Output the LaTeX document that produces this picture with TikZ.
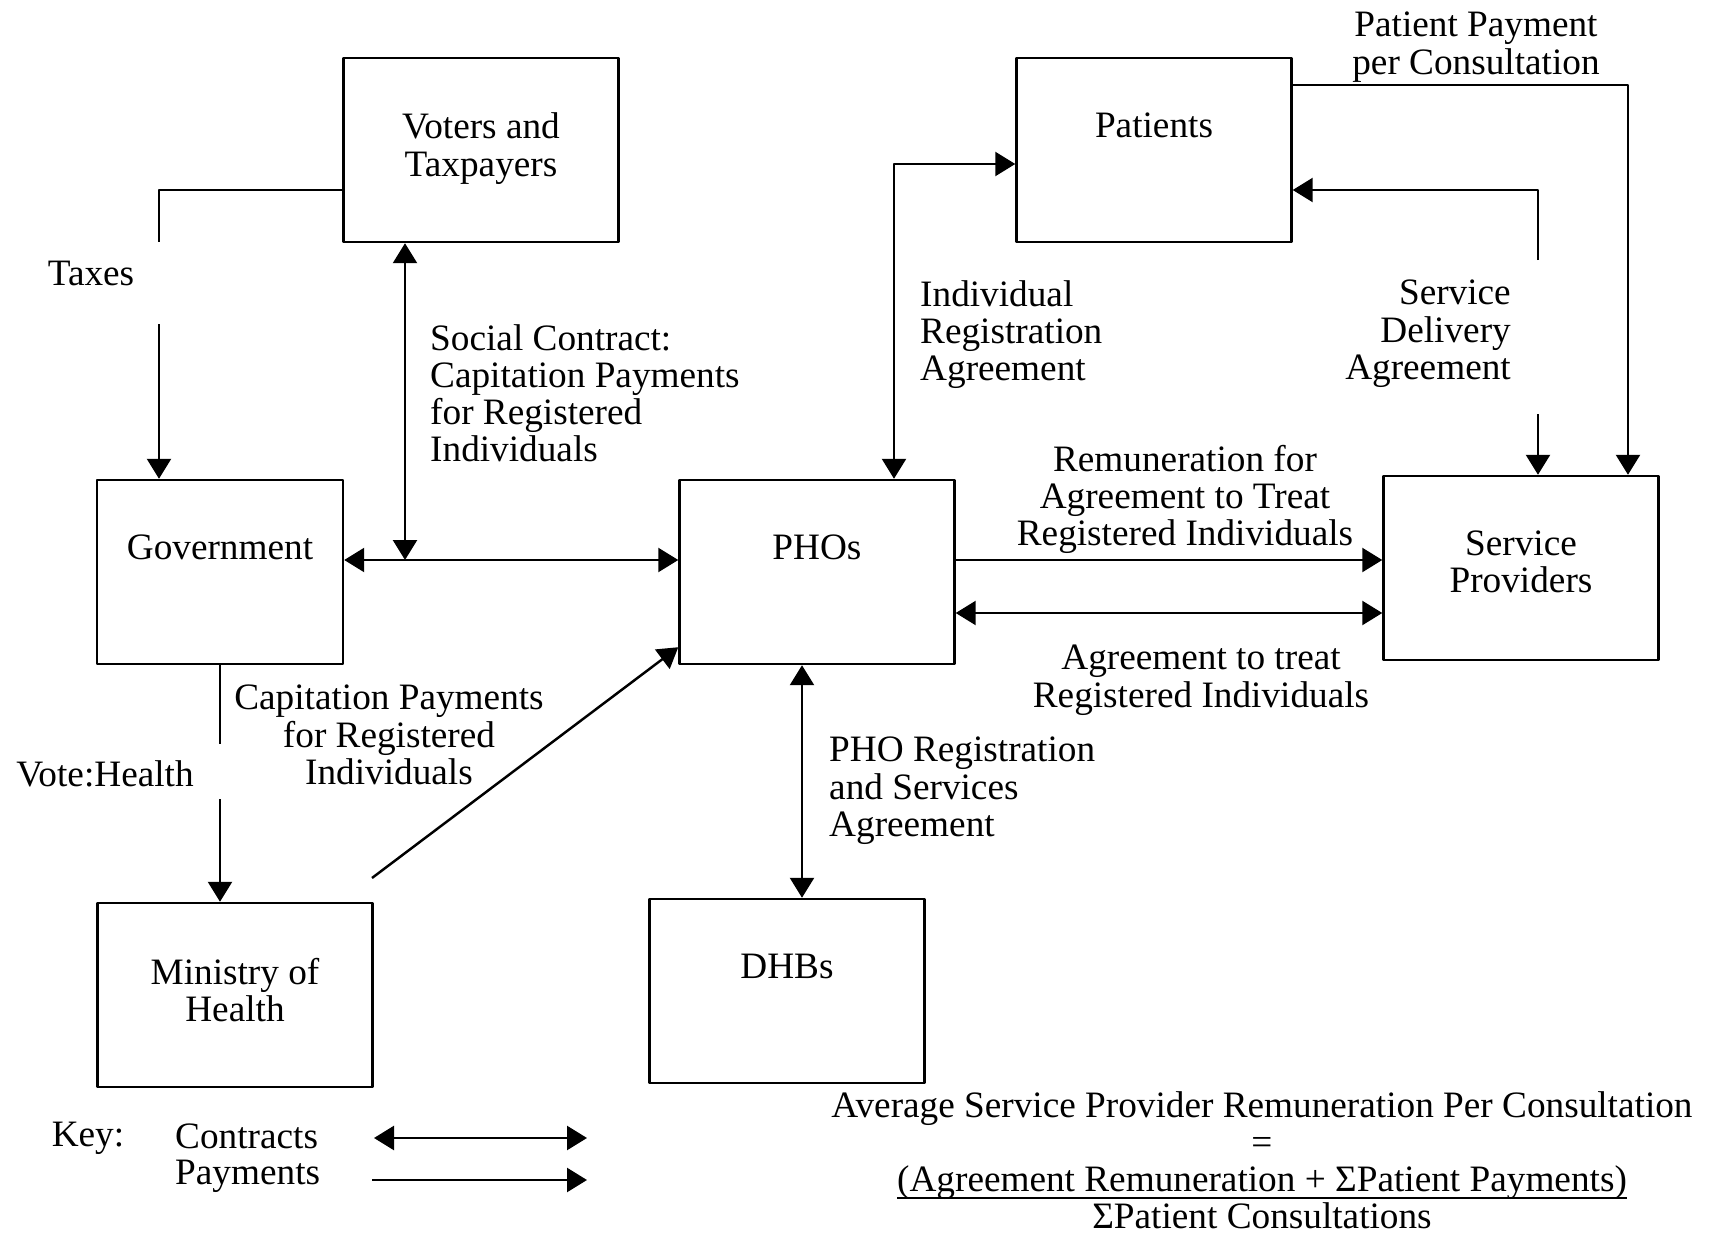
\documentclass[tikz,border=0pt]{standalone}
\usepackage{fontspec}
\setmainfont{Liberation Serif}
\usetikzlibrary{arrows.meta}

\newcommand{\fracline}[1]{\setbox0\hbox{#1}\rlap{\rule[-2.2pt]{\wd0}{0.6pt}}\box0}

\tikzset{
  box/.style={draw,minimum width=2.75cm,minimum height=1.84cm,inner sep=0pt},
  title/.style={anchor=north,align=center,inner sep=0pt},
  txt/.style={inner sep=0pt},
  contract/.style={{Triangle[length=2mm,width=2.4mm]}-{Triangle[length=2mm,width=2.4mm]}},
  payment/.style={-{Triangle[length=2mm,width=2.4mm]}}
}

\begin{document}
\begin{tikzpicture}[line join=round,line width=.7pt,font=\fontsize{10.6}{10.6}\selectfont]
\useasboundingbox (0,0) rectangle (17.16,12.34);

% boxes
\node[box] (vot) at (4.81,10.84) {};
\node[box] (pat) at (11.54,10.84) {};
\node[box,minimum width=2.46cm] (gov) at (2.20,6.62) {};
\node[box] (pho) at (8.17,6.62) {};
\node[box] (sp) at (15.21,6.66) {};
\node[box] (moh) at (2.35,2.39) {};
\node[box] (dhb) at (7.87,2.43) {};

\node[title] (votT) at ([yshift=-5.5mm]vot.north) {Voters and\\Taxpayers};
\node[title] (patT) at ([yshift=-5.5mm]pat.north) {Patients};
\node[title] (govT) at ([yshift=-5.5mm]gov.north) {Government};
\node[title] (phoT) at ([yshift=-5.5mm]pho.north) {PHOs};
\node[title] (spT) at ([yshift=-5.5mm]sp.north) {Service\\Providers};
\node[title] (mohT) at ([yshift=-5.5mm]moh.north) {Ministry of\\Health};
\node[title] (dhbT) at ([yshift=-5.5mm]dhb.north) {DHBs};

\path
(1.59,10.44) coordinate (tx1)
(1.59,9.92) coordinate (tx2)
(1.59,9.10) coordinate (tx3)
(4.05,6.74) coordinate (sc)
(2.20,4.90) coordinate (vh1)
(2.20,4.35) coordinate (vh2)
(3.72,3.56) coordinate (mo)
(8.94,10.70) coordinate (ir)
(8.02,0) coordinate (pd)
(15.38,10.44) coordinate (sd1)
(15.38,9.74) coordinate (sd2)
(15.38,8.20) coordinate (sd3)
(16.28,11.49) coordinate (pp)
(0,6.21) coordinate (ag)
(3.74,0.96) coordinate (k1)
(5.87,0.96) coordinate (k2)
(3.72,0.54) coordinate (k3)
(5.87,0.54) coordinate (k4)
;

% connectors
\draw (vot.west |- tx1) -- (tx1) -- (tx2);
\draw[payment] (tx3) -- (gov.north -| tx3);
\draw[contract] (gov.east |- sc) -- (pho.west |- sc);
\draw[contract] (vot.south -| sc) -- (sc);
\draw (gov.south -| vh1) -- (vh1);
\draw[payment] (vh2) -- (moh.north -| vh2);
\draw[payment] (mo) -- ([yshift=1.8mm]pho.south west);
\draw[contract] (pho.south -| pd) -- (dhb.north -| pd);
\draw[contract] (pho.north -| ir) |- (pat.west |- ir);
\draw[payment] (sd2) -- (sd1) -- (pat.east |- sd1);
\draw[payment] (sd3) -- (sp.north -| sd3);
\draw[payment] (pat.east |- pp) -| (sp.north -| pp);
\draw[payment] (pho.east |- sc) -- (sp.west |- sc);
\draw[contract] (pho.east |- ag) -- (sp.west |- ag);

% labels
\node[txt] (taxes) at (0.91,9.61) {Taxes};
\node[txt] (vote) at (1.05,4.60) {Vote:Health};
\node[txt,anchor=north west,align=left] (social) at (4.29,9.11) {Social Contract:\\Capitation Payments\\for Registered\\Individuals};
\node[txt,anchor=north,align=center] (capit) at (3.89,5.50) {Capitation Payments\\for Registered\\Individuals};
\node[txt,anchor=north west,align=left] (indiv) at (9.19,9.55) {Individual\\Registration\\Agreement};
\node[txt,anchor=north east,align=right] (deliv) at (15.12,9.55) {Service\\Delivery\\Agreement};
\node[txt,anchor=north,align=center] (paypc) at (14.76,12.23) {Patient Payment\\per Consultation};
\node[txt,anchor=north,align=center] (remun) at (11.85,7.90) {Remuneration for\\Agreement to Treat\\Registered Individuals};
\node[txt,anchor=north,align=center] (treat) at (12.01,5.90) {Agreement to treat\\Registered Individuals};
\node[txt,anchor=north west,align=left] (phoreg) at (8.28,4.98) {PHO Registration\\and Services\\Agreement};

% key
\node[txt] (key) at (0.88,0.96) {Key:};
\node[txt,anchor=west] (kcon) at (1.74,0.98) {Contracts};
\node[txt,anchor=west] (kpay) at (1.74,0.58) {Payments};
\draw[contract] (k1) -- (k2);
\draw[payment] (k3) -- (k4);

% formula
\node[txt,anchor=north,align=center] (formula) at (12.62,1.44) {Average Service Provider Remuneration Per Consultation\\=\\\fracline{(Agreement Remuneration + ΣPatient Payments)}\\ΣPatient Consultations};
\end{tikzpicture}
\end{document}
